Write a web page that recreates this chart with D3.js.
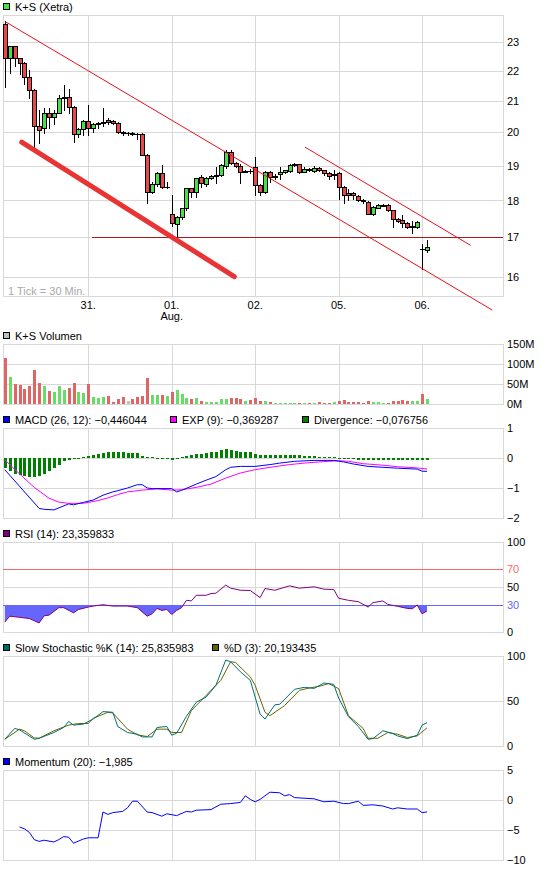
<!DOCTYPE html>
<html><head><meta charset="utf-8">
<script src="https://cdn.jsdelivr.net/npm/d3@7"></script>
<style>
body{margin:0;background:#fff}
svg{display:block;font-family:"Liberation Sans",Arial,sans-serif;font-size:11px}
</style>
</head><body><svg id="c" width="545" height="869"></svg>
<script>
// ---------------- DATA ----------------
const openP  = [23.66,22.44,22.85,22.44,22.27,21.81,21.36,20.20,20.15,20.60,20.47,20.62,21.08,21.12,20.79,19.96,20.11,20.37,20.14,20.25,20.28,20.38,20.37,20.29,20.00,19.98,19.98,19.96,19.94,19.31,
                18.25,18.47,18.77,18.37,17.64,17.35,17.55,17.78,18.34,18.23,18.66,18.47,18.63,18.70,18.72,18.99,19.41,19.08,19.00,18.82,18.85,18.97,18.44,18.23,18.82,18.67,18.75,18.80,18.84,19.02,
                19.04,18.82,18.89,18.85,18.92,18.86,18.78,18.72,18.77,18.38,18.22,18.20,18.13,18.01,17.96,17.64,17.80,17.86,17.87,17.73,17.49,17.46,17.37,17.28,17.28,16.70,16.66];
const highP  = [23.77,22.85,22.87,22.46,22.30,22.02,21.40,20.70,20.76,20.78,20.70,21.20,21.53,21.38,20.85,20.15,20.40,20.87,20.30,20.32,20.76,20.45,20.38,20.32,20.05,20.02,20.00,19.98,19.98,19.35,
                18.52,18.80,19.02,18.53,18.15,17.58,17.80,18.36,18.36,18.65,18.72,18.66,18.72,18.97,19.05,19.46,19.45,19.12,19.05,18.88,18.90,19.26,18.46,18.85,18.85,18.75,18.97,18.88,19.05,19.08,
                19.06,18.95,18.93,18.98,18.96,18.88,18.80,18.86,18.80,18.40,18.31,18.25,18.15,18.03,17.98,17.84,17.89,17.89,17.89,17.75,17.52,17.59,17.40,17.44,17.44,16.84,16.94];
const lowP   = [21.45,21.93,22.16,21.90,21.55,21.08,19.40,19.67,19.97,20.13,20.27,20.60,20.71,20.60,19.72,19.85,19.92,19.92,20.00,20.15,20.20,20.25,20.25,19.98,19.92,19.93,19.93,19.80,19.30,17.94,
                18.20,18.40,18.34,18.34,17.30,17.02,17.50,17.75,18.10,18.10,18.38,18.42,18.60,18.48,18.70,18.92,19.05,18.95,18.48,18.80,18.78,18.15,18.15,18.20,18.53,18.62,18.60,18.78,18.82,19.00,
                18.78,18.80,18.85,18.82,18.83,18.72,18.60,18.62,18.04,17.92,18.01,18.05,17.98,17.92,17.62,17.60,17.78,17.85,17.70,17.28,17.40,17.28,17.25,17.12,17.25,16.20,16.62];
const closeP = [22.44,22.85,22.44,22.27,21.81,21.36,20.20,20.08,20.60,20.47,20.62,21.08,21.12,20.79,19.96,20.11,20.37,20.14,20.25,20.28,20.33,20.33,20.29,20.00,19.98,19.98,19.96,19.94,19.31,18.25,
                18.47,18.77,18.37,18.38,17.38,17.55,17.78,18.34,18.23,18.63,18.49,18.63,18.70,18.72,19.02,19.41,19.08,19.00,18.82,18.85,18.83,18.44,18.23,18.82,18.67,18.70,18.82,18.86,19.02,19.04,
                18.82,18.89,18.88,18.92,18.86,18.78,18.70,18.74,18.38,18.15,18.15,18.14,18.01,17.99,17.64,17.82,17.87,17.87,17.73,17.48,17.43,17.37,17.28,17.29,17.40,16.69,16.74];
// volume in millions
const volumeM = [114,67,51,48,38,46,85,53,46,33,31,46,36,41,53,31,28,51,17,15,18,20,5,13,18,8,13,18,20,66,
                 23,23,23,20,31,34,25,16,13,15,8,5,5,5,13,13,15,15,13,8,10,15,8,8,4,3,3,3,3,3,
                 3,3,3,3,5,3,3,5,8,10,5,5,5,3,8,5,5,3,3,8,8,10,8,8,8,25,13];
// MACD / signal: vertices [bar, value]
const macdPts = [[0,-0.39],[7,-1.68],[8,-1.71],[10,-1.73],[13,-1.53],[14,-1.56],[16,-1.48],[18,-1.40],[20,-1.24],[22,-1.13],[23,-1.09],[25,-1.0],[27,-0.89],[28,-0.89],[29,-1.0],[30,-1.02],[34,-1.02],[35,-1.13],[36,-1.08],[39,-0.87],[41,-0.74],[43,-0.62],[45,-0.39],[46,-0.31],[48,-0.28],[51,-0.28],[54,-0.22],[56,-0.17],[59,-0.11],[63,-0.08],[67,-0.08],[69,-0.13],[71,-0.2],[74,-0.28],[77,-0.31],[80,-0.34],[84,-0.37],[85,-0.44],[86,-0.446]];
const expPts  = [[0,-0.06],[3,-0.53],[6,-0.98],[9,-1.34],[11,-1.47],[13,-1.51],[16,-1.51],[19,-1.42],[21,-1.33],[23,-1.22],[25,-1.13],[28,-1.07],[31,-1.03],[34,-1.07],[36,-1.06],[39,-0.98],[42,-0.87],[45,-0.67],[48,-0.5],[51,-0.39],[54,-0.31],[58,-0.22],[61,-0.17],[65,-0.12],[68,-0.09],[70,-0.11],[73,-0.19],[77,-0.24],[80,-0.29],[84,-0.33],[86,-0.369]];
const divergence = [-0.33,-0.44,-0.53,-0.58,-0.61,-0.64,-0.64,-0.60,-0.52,-0.44,-0.33,-0.22,-0.11,-0.06,-0.03,0.01,0.03,0.06,0.11,0.14,
                    0.17,0.19,0.20,0.20,0.19,0.18,0.18,0.16,0.06,0.02,0.02,0.01,0.01,0.00,-0.06,-0.03,0.02,0.06,0.09,0.13,
                    0.14,0.16,0.19,0.21,0.27,0.29,0.28,0.24,0.21,0.20,0.19,0.13,0.11,0.11,0.11,0.11,0.11,0.11,0.10,0.10,
                    0.09,0.08,0.07,0.06,0.05,0.03,0.03,0.02,0.00,-0.02,-0.03,-0.04,-0.06,-0.07,-0.08,-0.08,-0.08,-0.08,-0.08,-0.08,
                    -0.07,-0.07,-0.07,-0.06,-0.06,-0.08,-0.077];
const rsiPts = [[0,11],[1,17.6],[3,16.3],[5,15],[6,12.5],[7,10.1],[8,18],[9,18.7],[11,27],[12,27],[14,21.3],[15,25],[17,27.7],[18,28.8],[20,30.3],[22,28.8],[25,28.8],[27,27],[29,17.6],[30,20.2],[31,26.2],[32,24],[33,25.1],[34,19.5],[35,24],[36,27],[37,35.2],[38,34.5],[39,40.8],[41,40.8],[42,42.7],[43,43.1],[45,52.1],[46,48.7],[48,46.4],[50,46.1],[52,38.2],[53,48.3],[55,46.4],[58,51.3],[60,48.7],[63,50.2],[65,47.6],[67,47.2],[68,37.5],[70,35.2],[72,33.7],[74,27.7],[75,32.6],[77,34.5],[78,30.7],[80,28.5],[82,26.2],[83,25.8],[84,30],[85,20.2],[86,23.36]];
const stochKPts = [[0,7.5],[2,19.5],[3,18],[6,7.5],[7,8.6],[10,15],[12,20.6],[13,27.3],[14,23.2],[16,24.3],[18,30],[20,38.2],[22,37.5],[23,21.7],[25,15],[27,13.1],[28,10.1],[30,10.1],[31,20.6],[33,21.7],[34,12],[35,14.2],[37,33],[39,48.7],[41,54.3],[43,67.4],[45,95.5],[46,93.6],[48,82.4],[50,73],[52,35.6],[53,30],[55,45.7],[56,46.4],[59,62.9],[61,65.2],[63,64],[65,70],[67,68.5],[68,53.2],[70,32.6],[72,21.7],[74,7.5],[75,8.2],[77,16.9],[79,13.9],[80,11.2],[82,8.2],[84,12],[85,23.2],[86,25.84]];
const stochDPts = [[0,7.5],[3,18.7],[4,16.9],[6,9],[7,8.6],[10,16.9],[13,23.2],[15,25],[17,25],[18,30.7],[21,37.5],[22,36.7],[25,18.7],[27,12.4],[29,10.5],[31,18.7],[33,18.7],[34,15],[36,15],[38,39.3],[41,56.2],[44,73],[46,93.6],[47,92.9],[50,76.8],[51,67.4],[53,37.5],[54,33.7],[57,44.9],[60,61.8],[62,64.4],[64,66.3],[66,69.3],[68,63.7],[70,33.7],[73,19.5],[74,8.6],[76,8.6],[78,15],[80,13.1],[82,9.4],[84,11.2],[86,20.19]];
const momentumPts = [[3,-4.5],[4,-4.8],[5,-5.4],[6,-6.6],[7,-6.9],[8,-6.7],[10,-7.0],[11,-6.6],[12,-6.1],[13,-6.2],[14,-7.2],[16,-6.5],[17,-6.3],[19,-6.3],[20,-2.0],[21,-2.4],[22,-2.1],[24,-1.9],[25,-1.3],[26,-0.2],[27,-0.2],[29,-2.0],[30,-2.1],[32,-2.7],[33,-2.3],[35,-2.6],[37,-1.9],[38,-2.0],[39,-1.7],[42,-1.6],[44,-0.7],[46,-0.6],[48,-0.4],[49,0.7],[50,0.1],[51,-0.3],[52,0.1],[54,1.3],[56,1.2],[57,0.7],[58,0.9],[59,0.4],[63,0.2],[65,-0.3],[67,-0.2],[69,-0.6],[70,-0.6],[72,-0.2],[73,-0.9],[75,-0.8],[77,-1.0],[79,-1.5],[80,-1.3],[82,-1.5],[84,-1.5],[85,-2.1],[86,-1.985]];

const dayStarts = [17,34,51,68,85];
const dayLabels = ["31.","01.","02.","05.","06."];
const monthLabels = [[34,"Aug."]];
const priceTicks = [16,17,18,19,20,21,22,23];
const volumeTicks = [0,50,100,150];
const macdTicks = [1,0,-1,-2];
const rsiTicks = [100,70,50,30,0];
const stochTicks = [100,50,0];
const momentumTicks = [5,0,-5,-10];
// drawn trend lines: [bar, price]
const trendThin = [[[0.04,23.75],[99.3,15.19]], [[61.15,19.55],[94.9,16.79]]];
const trendThick = [[3.44,19.70],[46.75,16.0]];
const supportLevel = [[17.7,17],[101.5,17]];

// ---------------- LAYOUT ----------------
const svg = d3.select("#c");
const L = 3, R = 503;
const n = closeP.length;
const x = d3.scaleLinear().domain([0,85]).range([4.8,422.1]);
const GRID = "#d8d8d8";
const cRed = "#e84848", cGreen = "#48e048";

function panel(top, bottom, yScale, ticks, fmt, tickColor){
  const g = svg.append("g");
  ticks.forEach(t=>{
    const yy = Math.round(yScale(t))+0.5;
    g.append("line").attr("x1",L).attr("x2",R).attr("y1",yy).attr("y2",yy).attr("stroke",GRID);
  });
  dayStarts.forEach(d=>{
    const xx = Math.round(x(d))+0.5;
    g.append("line").attr("x1",xx).attr("x2",xx).attr("y1",top).attr("y2",bottom).attr("stroke",GRID);
  });
  g.append("rect").attr("x",L+0.5).attr("y",top+0.5).attr("width",R-L).attr("height",bottom-top)
    .attr("fill","none").attr("stroke",GRID);
  const ax = svg.append("g").attr("transform",`translate(${R},0)`)
    .call(d3.axisRight(yScale).tickValues(ticks).tickSize(0).tickPadding(4).tickFormat(fmt));
  ax.select(".domain").remove();
  ax.selectAll("text").attr("font-size",11).attr("font-family",'"Liberation Sans",Arial,sans-serif')
    .attr("fill",d=>tickColor? tickColor(d):"#000");
  return g;
}
function legend(top, items){
  items.forEach(it=>{
    svg.append("rect").attr("x",it.x+0.5).attr("y",top-12+0.5).attr("width",6).attr("height",6)
      .attr("fill",it.c).attr("stroke","#000");
    svg.append("text").attr("x",it.x+12).attr("y",top-4.5).attr("fill","#000").text(it.t);
  });
}

// ---------------- PRICE ----------------
const pTop=15, pBot=296;
const py = d3.scaleLog().domain([15.525,23.99]).range([pBot,pTop]);
panel(pTop,pBot,py,priceTicks,d3.format("d"));
legend(pTop,[{x:3,c:cGreen,t:"K+S (Xetra)"}]);
svg.append("text").attr("x",8).attr("y",294.5).attr("fill","#a8a8a8").text("1 Tick = 30 Min.");
dayStarts.forEach((d,k)=>{
  svg.append("text").attr("x",x(d)).attr("y",309).attr("text-anchor","middle").text(dayLabels[k]);
});
monthLabels.forEach(m=>{
  svg.append("text").attr("x",x(m[0])).attr("y",320).attr("text-anchor","middle").text(m[1]);
});
// support level + thin trend lines
const pline = d3.line().x(d=>x(d[0])).y(d=>py(d[1]));
svg.append("path").attr("d",pline(supportLevel)).attr("stroke","#b01818").attr("fill","none").attr("shape-rendering","crispEdges");
// candles
const cg = svg.append("g");
for(let i=0;i<n;i++){
  const cx = Math.round(x(i));
  const col = closeP[i]>openP[i]?cGreen:(closeP[i]<openP[i]?cRed:"#bbbbbb");
  cg.append("line").attr("x1",cx+0.5).attr("x2",cx+0.5)
    .attr("y1",Math.round(py(highP[i]))).attr("y2",Math.round(py(lowP[i]))+1).attr("stroke","#000");
  const t = Math.round(Math.min(py(openP[i]),py(closeP[i])));
  const b = Math.round(Math.max(py(openP[i]),py(closeP[i])));
  if(b-t<1){
    cg.append("line").attr("x1",cx-2).attr("x2",cx+3).attr("y1",t+0.5).attr("y2",t+0.5).attr("stroke","#000");
  } else {
    cg.append("rect").attr("x",cx-1.5).attr("y",t+0.5).attr("width",4).attr("height",b-t)
      .attr("fill",col).attr("stroke","#000");
  }
}
trendThin.forEach(seg=>{
  svg.append("path").attr("d",pline(seg)).attr("stroke","#e8101a").attr("stroke-width",1).attr("fill","none");
});
svg.append("path").attr("d",pline(trendThick)).attr("stroke","#e83434").attr("stroke-width",5)
  .attr("stroke-linecap","round").attr("fill","none");

// ---------------- VOLUME ----------------
const vTop=344, vBot=404;
const vy = d3.scaleLinear().domain([0,150]).range([vBot,vTop]);
panel(vTop,vBot,vy,volumeTicks,d=>d+"M");
legend(vTop,[{x:3,c:"#c0c0c0",t:"K+S Volumen"}]);
const vg = svg.append("g");
volumeM.forEach((v,i)=>{
  const cx = Math.round(x(i));
  const col = closeP[i]>openP[i]?"#66dd66":(closeP[i]<openP[i]?"#e06666":"#c0c0c0");
  const yt = Math.round(vy(v));
  vg.append("rect").attr("x",cx-1).attr("y",yt).attr("width",3).attr("height",Math.max(1,vBot-yt)).attr("fill",col);
});

// ---------------- MACD ----------------
const mTop=428, mBot=518;
const my = d3.scaleLinear().domain([-2,1]).range([mBot,mTop]);
panel(mTop,mBot,my,macdTicks,d3.format("d"));
legend(mTop,[{x:3,c:"#0000ff",t:"MACD (26, 12): \u22120,446044"},{x:170,c:"#ff00ff",t:"EXP (9): \u22120,369287"},{x:302,c:"#008000",t:"Divergence: \u22120,076756"}]);
const dg = svg.append("g");
const y0 = Math.round(my(0));
divergence.forEach((v,i)=>{
  const cx = Math.round(x(i));
  const yv = Math.round(my(v));
  const top = Math.min(yv,y0), h = Math.max(1,Math.abs(yv-y0));
  dg.append("rect").attr("x",cx-1).attr("y",top).attr("width",3).attr("height",h).attr("fill","#008000");
});
const mline = d3.line().x(d=>x(d[0])).y(d=>my(d[1]));
svg.append("path").attr("d",mline(expPts)).attr("stroke","#ff00ff").attr("fill","none");
svg.append("path").attr("d",mline(macdPts)).attr("stroke","#0000ff").attr("fill","none");

// ---------------- RSI ----------------
const rTop=542, rBot=632;
const ry = d3.scaleLinear().domain([0,100]).range([rBot,rTop]);
panel(rTop,rBot,ry,[100,50,0],d3.format("d"));
// colored level lines
svg.append("line").attr("x1",L).attr("x2",R).attr("y1",Math.round(ry(70))+0.5).attr("y2",Math.round(ry(70))+0.5).attr("stroke","#ff6666");
svg.append("line").attr("x1",L).attr("x2",R).attr("y1",Math.round(ry(30))+0.5).attr("y2",Math.round(ry(30))+0.5).attr("stroke","#6666ff");
{
  const ax = svg.append("g").attr("transform",`translate(${R},0)`)
    .call(d3.axisRight(ry).tickValues([70,30]).tickSize(0).tickPadding(4).tickFormat(d3.format("d")));
  ax.select(".domain").remove();
  ax.selectAll("text").attr("font-size",11).attr("font-family",'"Liberation Sans",Arial,sans-serif')
    .attr("fill",d=>d===70?"#ff6666":"#6666ff");
}
legend(rTop,[{x:3,c:"#800080",t:"RSI (14): 23,359833"}]);
svg.append("clipPath").attr("id","below30").append("rect")
  .attr("x",L).attr("y",ry(30)).attr("width",R-L).attr("height",rBot-ry(30));
svg.append("path").attr("clip-path","url(#below30)")
  .attr("d",d3.area().x(d=>x(d[0])).y0(ry(30)).y1(d=>ry(d[1]))(rsiPts))
  .attr("fill","#6666ff");
svg.append("path").attr("d",d3.line().x(d=>x(d[0])).y(d=>ry(d[1]))(rsiPts)).attr("stroke","#800080").attr("fill","none");

// ---------------- STOCHASTIC ----------------
const sTop=656, sBot=746;
const sy = d3.scaleLinear().domain([0,100]).range([sBot,sTop]);
panel(sTop,sBot,sy,stochTicks,d3.format("d"));
legend(sTop,[{x:3,c:"#006666",t:"Slow  Stochastic %K (14): 25,835983"},{x:212,c:"#666600",t:"%D (3): 20,193435"}]);
const sline = d3.line().x(d=>x(d[0])).y(d=>sy(d[1]));
svg.append("path").attr("d",sline(stochDPts)).attr("stroke","#666600").attr("fill","none");
svg.append("path").attr("d",sline(stochKPts)).attr("stroke","#007070").attr("fill","none");

// ---------------- MOMENTUM ----------------
const oTop=770, oBot=860;
const oy = d3.scaleLinear().domain([-10,5]).range([oBot,oTop]);
panel(oTop,oBot,oy,momentumTicks,d3.format("d"));
legend(oTop,[{x:3,c:"#0000ff",t:"Momentum (20): \u22121,985"}]);
svg.append("path").attr("d",d3.line().x(d=>x(d[0])).y(d=>oy(d[1]))(momentumPts)).attr("stroke","#0000ff").attr("fill","none");
</script>
</body></html>
